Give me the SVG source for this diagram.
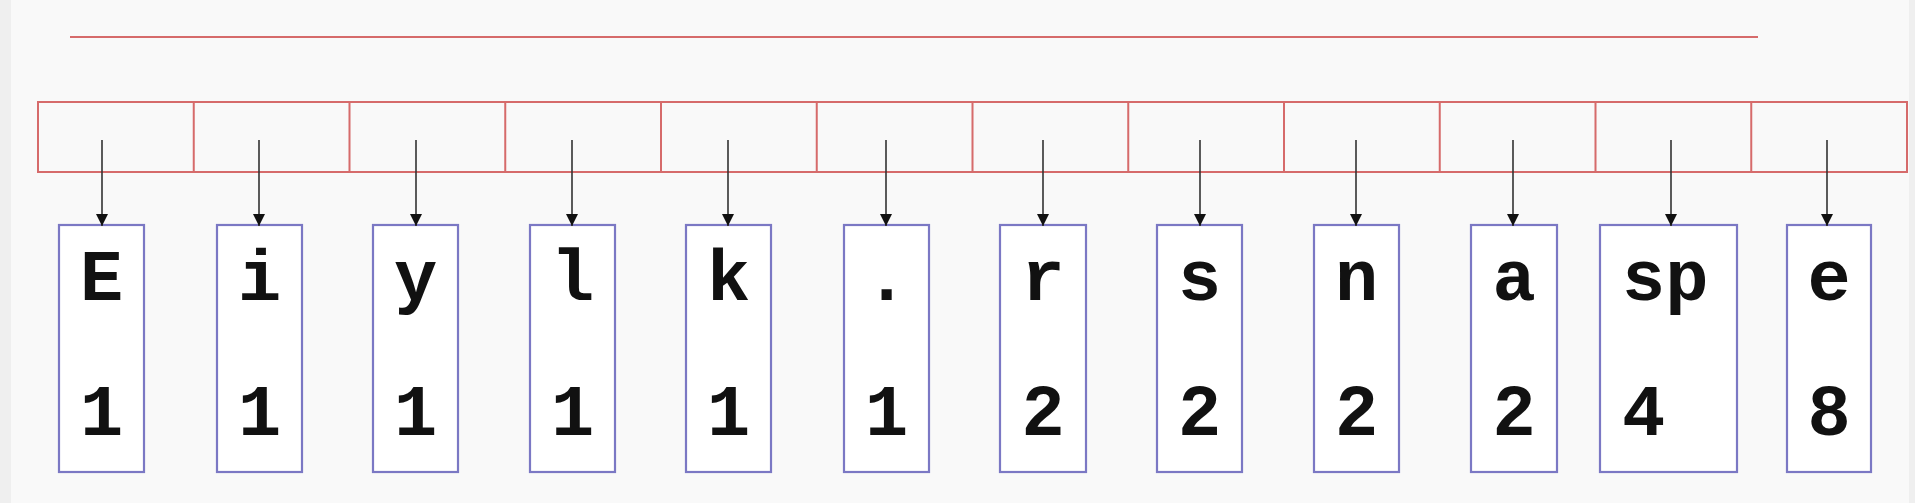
<svg xmlns="http://www.w3.org/2000/svg" width="1915" height="503" viewBox="0 0 1915 503">
<style>
.red{fill:none;stroke:#d66b6b;stroke-width:2}
.node rect{fill:#ffffff;stroke:#7b78c4;stroke-width:2.2}
.node text{font-family:"Liberation Mono","Courier New",monospace;font-weight:bold;font-size:72px;fill:#111}
.conn line{stroke:#333;stroke-width:1.6}
</style>
<defs>
<marker id="ah" markerWidth="12" markerHeight="12" refX="12" refY="6" orient="auto" markerUnits="userSpaceOnUse">
<path d="M0,0 L12,6 L0,12 Z" fill="#111"/>
</marker>
</defs>
<rect x="0" y="0" width="1915" height="503" fill="#f9f9f9"/>
<rect x="0" y="0" width="11" height="503" fill="#efefef"/>
<rect x="1909" y="0" width="6" height="503" fill="#efefef"/>
<line class="red" x1="70" y1="37" x2="1758" y2="37"/>
<g id="array">
<rect class="red" x="38" y="102" width="1869" height="70" fill="#fdfdfd"/>
<path class="red" d="M193.75,102V172M349.5,102V172M505.25,102V172M661,102V172M816.75,102V172M972.5,102V172M1128.25,102V172M1284,102V172M1439.75,102V172M1595.5,102V172M1751.25,102V172"/>
</g>
<g id="node-E" class="node"><rect x="59" y="225" width="85" height="247"/><text x="101.5" y="300" text-anchor="middle">E</text><text x="101.5" y="435" text-anchor="middle">1</text></g>
<g id="node-i" class="node"><rect x="217" y="225" width="85" height="247"/><text x="259.5" y="300" text-anchor="middle">i</text><text x="259.5" y="435" text-anchor="middle">1</text></g>
<g id="node-y" class="node"><rect x="373" y="225" width="85" height="247"/><text x="415.5" y="300" text-anchor="middle">y</text><text x="415.5" y="435" text-anchor="middle">1</text></g>
<g id="node-l" class="node"><rect x="530" y="225" width="85" height="247"/><text x="572.5" y="300" text-anchor="middle">l</text><text x="572.5" y="435" text-anchor="middle">1</text></g>
<g id="node-k" class="node"><rect x="686" y="225" width="85" height="247"/><text x="728.5" y="300" text-anchor="middle">k</text><text x="728.5" y="435" text-anchor="middle">1</text></g>
<g id="node-dot" class="node"><rect x="844" y="225" width="85" height="247"/><text x="886.5" y="300" text-anchor="middle">.</text><text x="886.5" y="435" text-anchor="middle">1</text></g>
<g id="node-r" class="node"><rect x="1000" y="225" width="86" height="247"/><text x="1043" y="300" text-anchor="middle">r</text><text x="1043" y="435" text-anchor="middle">2</text></g>
<g id="node-s" class="node"><rect x="1157" y="225" width="85" height="247"/><text x="1199.5" y="300" text-anchor="middle">s</text><text x="1199.5" y="435" text-anchor="middle">2</text></g>
<g id="node-n" class="node"><rect x="1314" y="225" width="85" height="247"/><text x="1356.5" y="300" text-anchor="middle">n</text><text x="1356.5" y="435" text-anchor="middle">2</text></g>
<g id="node-a" class="node"><rect x="1471" y="225" width="86" height="247"/><text x="1514" y="300" text-anchor="middle">a</text><text x="1514" y="435" text-anchor="middle">2</text></g>
<g id="node-sp" class="node"><rect x="1600" y="225" width="137" height="247"/><text x="1622" y="300">sp</text><text x="1622" y="435">4</text></g>
<g id="node-e" class="node"><rect x="1787" y="225" width="84" height="247"/><text x="1829" y="300" text-anchor="middle">e</text><text x="1829" y="435" text-anchor="middle">8</text></g>
<g id="connectors" class="conn">
<line x1="102" y1="140" x2="102" y2="226" marker-end="url(#ah)"/>
<line x1="259" y1="140" x2="259" y2="226" marker-end="url(#ah)"/>
<line x1="416" y1="140" x2="416" y2="226" marker-end="url(#ah)"/>
<line x1="572" y1="140" x2="572" y2="226" marker-end="url(#ah)"/>
<line x1="728" y1="140" x2="728" y2="226" marker-end="url(#ah)"/>
<line x1="886" y1="140" x2="886" y2="226" marker-end="url(#ah)"/>
<line x1="1043" y1="140" x2="1043" y2="226" marker-end="url(#ah)"/>
<line x1="1200" y1="140" x2="1200" y2="226" marker-end="url(#ah)"/>
<line x1="1356" y1="140" x2="1356" y2="226" marker-end="url(#ah)"/>
<line x1="1513" y1="140" x2="1513" y2="226" marker-end="url(#ah)"/>
<line x1="1671" y1="140" x2="1671" y2="226" marker-end="url(#ah)"/>
<line x1="1827" y1="140" x2="1827" y2="226" marker-end="url(#ah)"/>
</g>
</svg>
